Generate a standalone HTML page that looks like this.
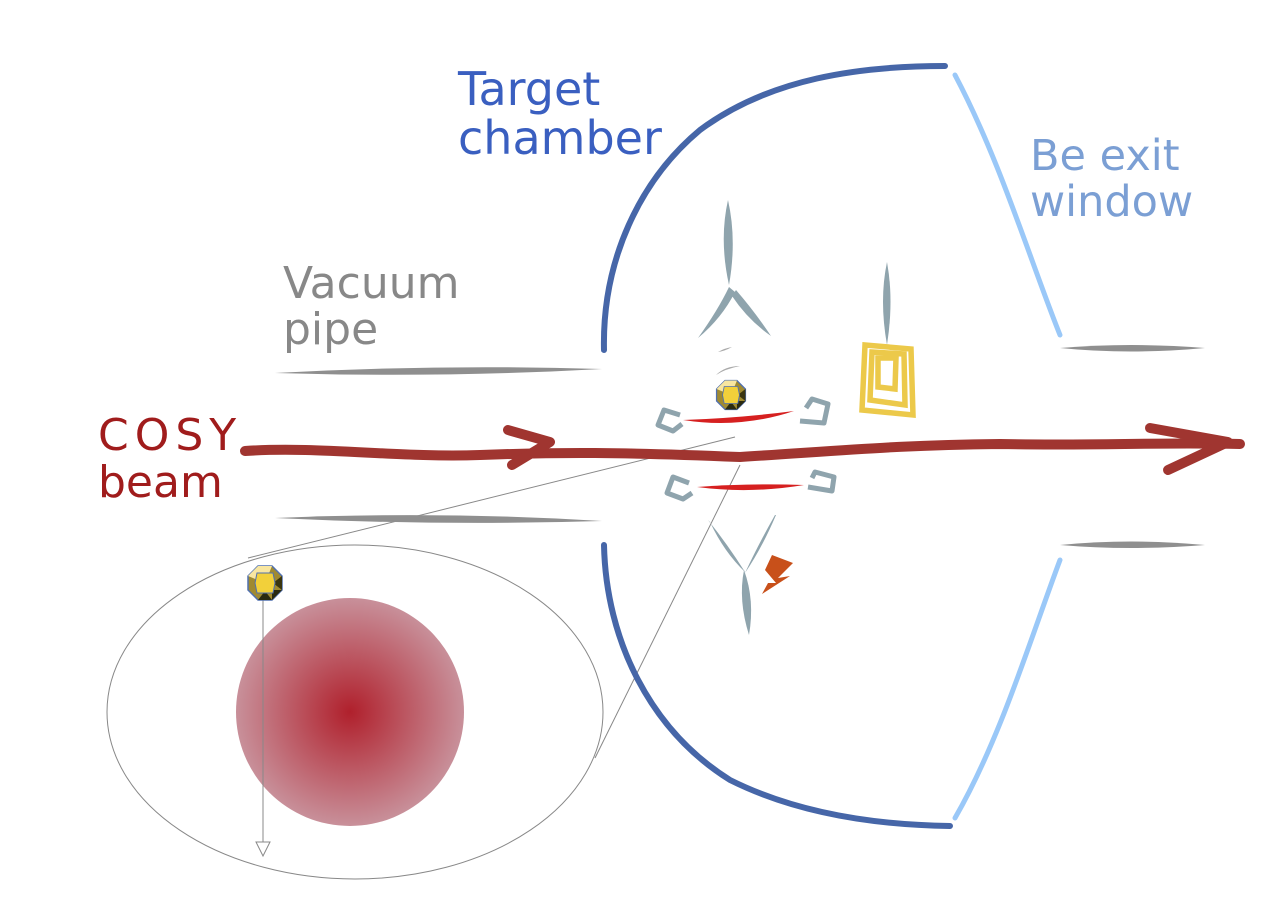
<!DOCTYPE html>
<html><head><meta charset="utf-8"><style>
html,body{margin:0;padding:0;background:#fff;width:1272px;height:907px;overflow:hidden}
svg text{font-family:"DejaVu Sans","Liberation Sans",sans-serif}
</style></head><body>
<svg width="1272" height="907" viewBox="0 0 1272 907">
<defs>
<radialGradient id="rg" cx="0.5" cy="0.5" r="0.5">
<stop offset="0" stop-color="#b0202c"/><stop offset="1" stop-color="#c8909a"/>
</radialGradient>
<g id="gem">
<polygon points="-7,-17 7,-17 17,-7 17,7 7,17 -7,17 -17,7 -17,-7" fill="#a08a30" stroke="#5070b0" stroke-width="1.5"/>
<polygon points="-17,-7 -7,-17 7,-17 0,0" fill="#f8e6a0"/>
<polygon points="7,7 17,7 7,17" fill="#2a2a10"/>
<polygon points="-7,17 7,17 0,8" fill="#2a2a10"/>
<polygon points="17,-7 17,7 8,0" fill="#3a3510"/>
<polygon points="-8,-10 8,-10 10,0 8,10 -8,10 -10,0" fill="#f2d03a" stroke="#5070b0" stroke-width="1"/>
</g>
</defs>
<ellipse cx="355" cy="712" rx="248" ry="167" fill="none" stroke="#888" stroke-width="1"/>
<line x1="248" y1="558" x2="735" y2="437" stroke="#888" stroke-width="1"/>
<line x1="595" y1="758" x2="740" y2="465" stroke="#888" stroke-width="1"/>
<circle cx="350" cy="712" r="114" fill="url(#rg)"/>
<line x1="263" y1="600" x2="263" y2="845" stroke="#888" stroke-width="1"/>
<polygon points="256,842 270,842 263,856" fill="#fff" stroke="#888" stroke-width="1"/>
<g transform="translate(265,583)"><use href="#gem"/></g>
<g fill="#8f8f8f">
<path d="M275,373 Q440,364 602,369 Q440,378 275,373Z"/>
<path d="M275,518 Q440,511 602,521 Q440,526 275,518Z"/>
<path d="M1060,348 Q1130,342 1205,348 Q1130,355 1060,348Z"/>
<path d="M1060,545 Q1130,538 1205,545 Q1130,551 1060,545Z"/>
</g>
<g fill="none" stroke="#4666a8" stroke-width="6" stroke-linecap="round">
<path d="M604,350 C602,260 640,180 700,130 C770,78 860,66 945,66"/>
<path d="M604,545 C606,640 650,730 730,780 C800,815 880,825 950,826"/>
</g>
<g fill="none" stroke="#9ac8f8" stroke-width="5" stroke-linecap="round">
<path d="M955,75 C1000,160 1030,260 1060,335"/>
<path d="M1060,560 C1030,640 1000,740 955,818"/>
</g>
<g fill="#8fa4ad">
<path d="M728,200 Q737,240 729,285 Q719,240 728,200Z"/>
<path d="M729,287 Q718,310 698,338 Q722,318 735,292Z"/>
<path d="M736,290 Q755,312 771,336 Q748,320 732,296Z"/>
<path d="M887,262 Q894,300 887,345 Q879,300 887,262Z"/>
<path d="M708,520 Q728,545 745,572 Q724,552 710,522Z"/>
<path d="M776,515 Q762,548 745,573 Q758,545 775,515Z"/>
<path d="M744,570 Q755,600 749,635 Q738,600 744,570Z"/>
<g fill="none" stroke="#8fa4ad" stroke-width="5" stroke-linejoin="round">
<path d="M680,415 L664,410 L658,425 L673,431 L682,424"/>
<path d="M800,421 L824,423 L828,404 L812,399 L806,408"/>
<path d="M689,483 L673,477 L667,493 L683,499 L692,493"/>
<path d="M808,487 L832,491 L834,477 L815,472 L812,478"/>
</g>
</g>
<path d="M718,352 Q725,348 732,347 Q725,351 718,352Z M716,375 Q725,366 740,366 Q725,369 716,375Z" fill="#aaa"/>
<g fill="#d62020">
<path d="M683,420 Q740,418 794,411 Q740,429 683,420Z"/>
<path d="M697,487 Q750,483 804,485 Q750,494 697,487Z"/>
</g>
<g fill="none" stroke="#ecc94a" stroke-width="5.5">
<path d="M865,345 L911,349 L913,415 L862,410 Z"/>
<path d="M872,352 L904,354 L905,405 L870,400 Z"/>
<path d="M878,358 L896,358 L895,389 L878,387 Z"/>
</g>
<g transform="translate(731,395) scale(0.85)"><use href="#gem"/></g>
<g fill="none" stroke="#a03530" stroke-width="10" stroke-linecap="round" stroke-linejoin="round">
<path d="M245,451 C320,446 400,458 480,455 C560,452 620,452 740,457 C850,450 900,445 1000,444 C1100,446 1150,442 1240,444"/>
<path d="M508,430 L550,442 L512,465"/>
<path d="M1150,428 L1228,442 L1168,470"/>
</g>
<path d="M772,555 L793,563 L778,578 L790,576 L762,594 L768,583 L776,583 L765,570 Z" fill="#c8501a"/>
<text fill="#3a5fc0" font-size="46"><tspan x="458" y="105">Target</tspan><tspan x="458" y="154">chamber</tspan></text>
<text fill="#7b9fd4" font-size="43"><tspan x="1030" y="170">Be exit</tspan><tspan x="1030" y="216">window</tspan></text>
<text fill="#888" font-size="44"><tspan x="283" y="298">Vacuum</tspan><tspan x="283" y="344">pipe</tspan></text>
<text fill="#a01c1c" font-size="44"><tspan x="98" y="450" letter-spacing="6">COSY</tspan><tspan x="98" y="497">beam</tspan></text>
</svg>
</body></html>
